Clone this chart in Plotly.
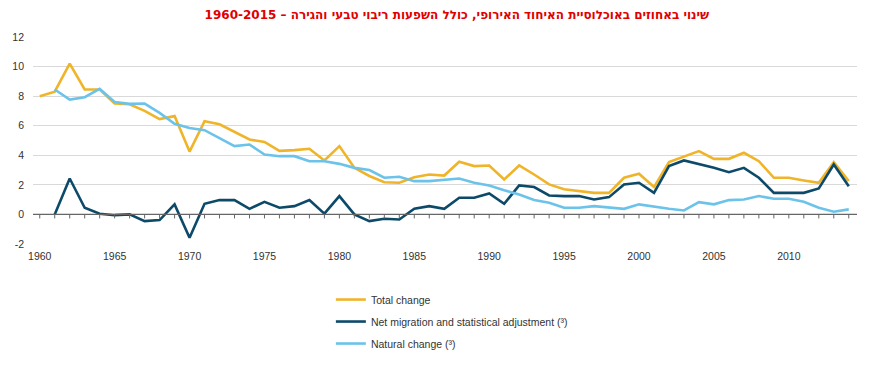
import plotly.graph_objects as go

years = list(range(1960, 2015))

total_change = [8.0, 8.3, 10.2, 8.45, 8.45, 7.5, 7.45, 7.0, 6.45, 6.65,
                4.25, 6.3, 6.1, 5.6, 5.07, 4.9, 4.3, 4.35, 4.44, 3.65,
                4.62, 3.15, 2.6, 2.18, 2.14, 2.52, 2.7, 2.63, 3.56, 3.27,
                3.31, 2.36, 3.31, 2.7, 2.03, 1.7, 1.58, 1.46, 1.46, 2.48,
                2.75, 1.85, 3.54, 3.9, 4.28, 3.76, 3.76, 4.17, 3.6, 2.48,
                2.48, 2.3, 2.14, 3.54, 2.25]

net_migration = [None, 0.0, 2.43, 0.45, 0.05, -0.05, 0.0, -0.45, -0.38, 0.68,
                 -1.58, 0.72, 0.97, 0.97, 0.38, 0.85, 0.45, 0.56, 0.97, 0.05,
                 1.24, 0.0, -0.45, -0.29, -0.34, 0.38, 0.56, 0.38, 1.13, 1.13,
                 1.42, 0.72, 1.96, 1.85, 1.28, 1.24, 1.24, 1.01, 1.17, 2.03,
                 2.14, 1.46, 3.27, 3.65, 3.42, 3.15, 2.86, 3.15, 2.48, 1.46,
                 1.46, 1.46, 1.76, 3.38, 1.91]

natural_change = [None, 8.45, 7.77, 7.93, 8.5, 7.6, 7.48, 7.5, 6.87, 6.13,
                  5.85, 5.7, 5.18, 4.62, 4.73, 4.05, 3.94, 3.94, 3.6, 3.6,
                  3.42, 3.15, 3.0, 2.48, 2.55, 2.25, 2.25, 2.32, 2.43, 2.14,
                  1.96, 1.64, 1.35, 0.97, 0.79, 0.45, 0.45, 0.56, 0.45, 0.38,
                  0.68, 0.52, 0.38, 0.27, 0.83, 0.68, 0.97, 1.01, 1.24, 1.06,
                  1.06, 0.86, 0.45, 0.18, 0.34]

x_tick_vals = [1960, 1965, 1970, 1975, 1980, 1985, 1990, 1995, 2000, 2005, 2010]
y_tick_vals = [-2, 0, 2, 4, 6, 8, 10, 12]
y_tick_text = ["-2", "0", "2", "4", "6", "8", "10", "12"]

title_text = "שינוי באחוזים באוכלוסיית האיחוד האירופי, כולל השפעות ריבוי טבעי והגירה – 1960-2015"
names = ["Total change", "Net migration and statistical adjustment (³)", "Natural change (³)"]

fig = go.Figure()
series = [(total_change, "#f0b429", names[0]),
          (net_migration, "#0d4a69", names[1]),
          (natural_change, "#6cc3ea", names[2])]
for i, (vals, col, nm) in enumerate(series):
    fig.add_trace(go.Scatter(x=years, y=vals, mode="lines", name=nm,
                             line=dict(color=col, width=2.6), legendgroup=str(i),
                             connectgaps=False))

# zero axis line with yearly tick marks
shapes = [dict(type="line", xref="paper", yref="y", x0=0, x1=1, y0=0, y1=0,
               line=dict(color="#666666", width=1.3), layer="above")]
for yr in years:
    shapes.append(dict(type="line", xref="x", yref="y", ysizemode="pixel", yanchor=0,
                       x0=yr, x1=yr, y0=-4, y1=0,
                       line=dict(color="#666666", width=1)))

fig.update_layout(
    width=875, height=357,
    paper_bgcolor="white", plot_bgcolor="white",
    margin=dict(l=25, r=26, t=29, b=121, autoexpand=False),
    title=dict(text=title_text, x=0.513, xanchor="center", xref="container",
               y=0.98, yanchor="middle", yref="container",
               font=dict(family="DejaVu Sans", size=12, color="#e00000", weight="bold")),
    font=dict(family="Liberation Sans, Arial", size=11, color="#333333"),
    xaxis=dict(range=[1959.55, 2014.55], tickvals=x_tick_vals, showgrid=False,
               zeroline=False, showline=False, ticks="", automargin=False,
               ticklabelstandoff=4, tickfont=dict(size=10.5, color="#333333")),
    yaxis=dict(range=[-2, 12], tickvals=y_tick_vals, ticktext=y_tick_text,
               showgrid=True, gridcolor="#d9d9d9",
               gridwidth=1, zeroline=False, showline=False, ticks="", ticklabelstandoff=8,
               automargin=False, tickfont=dict(size=10.5, color="#333333")),
    showlegend=True,
    legend=dict(x=0.369, xref="container", y=0.224, yref="container",
                xanchor="left", yanchor="top", orientation="v",
                tracegroupgap=3, font=dict(size=10.5, color="#333333"), bgcolor="rgba(0,0,0,0)",
                itemwidth=30),
    shapes=shapes,
)

fig.write_html("out.html")
